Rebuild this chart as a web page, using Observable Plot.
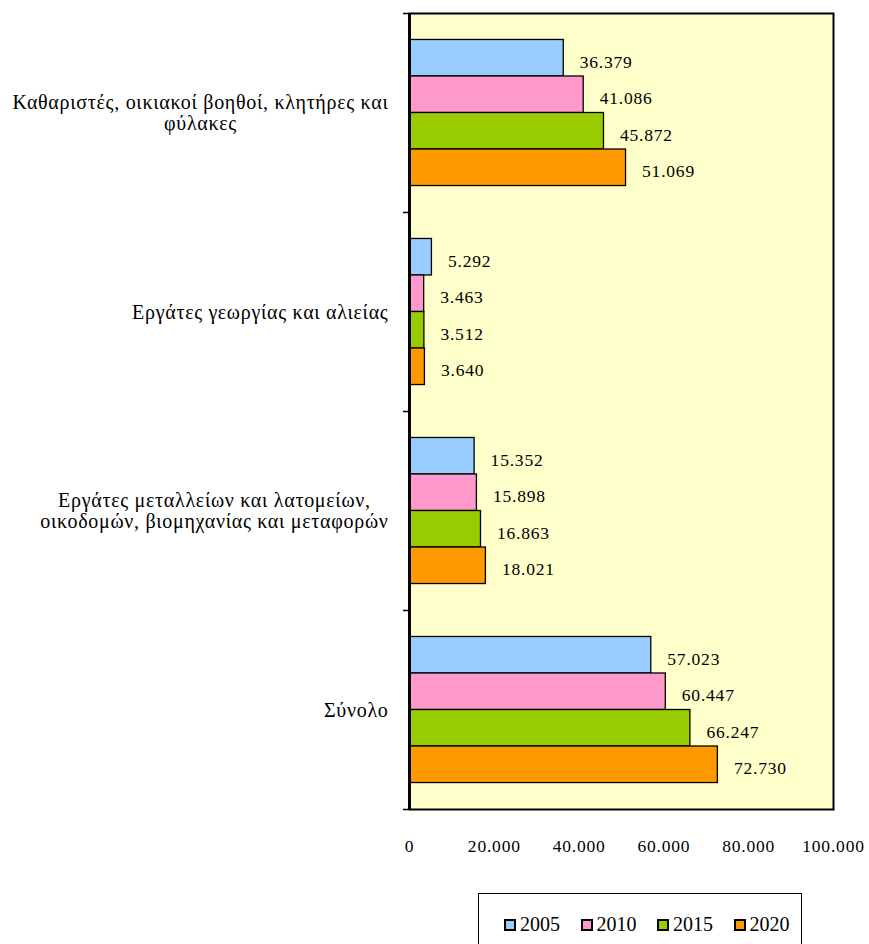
<!DOCTYPE html>
<html>
<head>
<meta charset="utf-8">
<script src="https://cdn.jsdelivr.net/npm/d3@7"></script>
<script src="https://cdn.jsdelivr.net/npm/@observablehq/plot@0.6"></script>
<style>
  body { margin: 0; background: #fff; font-family: 'Liberation Serif', 'Times New Roman', serif; }
  #wrap { position: relative; width: 869px; height: 944px; overflow: hidden; }
  #legend { position: absolute; left: 478px; top: 893px; width: 324px; height: 70px; box-sizing: border-box;
            border: 1.5px solid #000; background: #fff; font-family: 'Liberation Serif', 'Times New Roman', serif; }
  #legend .items { position: absolute; left: 25px; top: 19px; display: flex; }
  #legend .item { display: flex; align-items: center; width: 76.5px; font-size: 20px; color: #000; }
  #legend .sw { width: 8px; height: 8px; border: 2px solid #000; margin-right: 4px; }
  svg text { font-family: 'Liberation Serif', 'Times New Roman', serif !important; }
</style>
</head>
<body>
<div id="wrap">
  <div id="chart"></div>
  <div id="legend"><div class="items"></div></div>
</div>
<script>
// ---- data ----
const categories = [
  "Καθαριστές, οικιακοί βοηθοί, κλητήρες και\nφύλακες",
  "Εργάτες γεωργίας και αλιείας",
  "Εργάτες μεταλλείων και λατομείων,\nοικοδομών, βιομηχανίας και μεταφορών",
  "Σύνολο"
];
const years = ["2005", "2010", "2015", "2020"];
const values2005 = [36379, 5292, 15352, 57023];
const values2010 = [41086, 3463, 15898, 60447];
const values2015 = [45872, 3512, 16863, 66247];
const values2020 = [51069, 3640, 18021, 72730];
const yearColors = ["#99CCFF", "#FF99CC", "#99CC00", "#FF9900"];
const xTicks = [0, 20000, 40000, 60000, 80000, 100000];

// ---- layout of grouped bars (dodge within each category band) ----
const groupPad = 0.133;
const barBand = (1 - 2 * groupPad) / years.length;
const series = [values2005, values2010, values2015, values2020];
const rows = [];
categories.forEach((c, ci) => {
  years.forEach((yr, yi) => {
    const y1 = ci + groupPad + yi * barBand;
    rows.push({category: c, year: yr, value: series[yi][ci], y1, y2: y1 + barBand, ym: y1 + barBand / 2});
  });
});
const fmt = d => d3.format(",")(d).replace(/,/g, ".");
const serif = "'Liberation Serif', 'Times New Roman', serif";

const plot = Plot.plot({
  width: 869,
  height: 875,
  marginTop: 13,
  marginBottom: 66,
  marginLeft: 409,
  marginRight: 36,
  style: {fontFamily: serif, fontSize: "17.5px", color: "#000", background: "#fff"},
  x: {domain: [0, 100000]},
  y: {domain: [0, categories.length], reverse: true},
  color: {domain: years, range: yearColors},
  marks: [
    Plot.frame({fill: "#FFFFCC"}),
    Plot.rect(rows, {x1: 0, x2: "value", y1: "y1", y2: "y2", fill: "year", stroke: "#000", strokeWidth: 1.3}),
    Plot.text(rows, {x: "value", y: "ym", text: d => fmt(d.value), textAnchor: "start", dx: 16, dy: 4, fontSize: 17.5, fontFamily: serif, fill: "#000"}),
    Plot.frame({stroke: "#000", strokeWidth: 2}),
    Plot.ruleX([0], {stroke: "#000", strokeWidth: 3}),
    Plot.axisY(d3.range(categories.length + 1), {tickSize: 6, tickFormat: () => "", stroke: "#000", strokeWidth: 1.5, label: null}),
    Plot.axisY(categories.map((c, i) => i + 0.5), {tickSize: 0, tickPadding: 21, tickFormat: v => categories[v - 0.5], fontSize: 20, fontFamily: serif, lineHeight: 1.05, label: null}),
    Plot.axisX(xTicks, {tickSize: 0, tickPadding: 30, tickFormat: fmt, fontSize: 17.5, fontFamily: serif, label: null})
  ]
});
document.getElementById("chart").appendChild(plot);

// letter spacing similar to the reference rendering
plot.querySelectorAll('g[aria-label="y-axis tick label"]').forEach(g => g.style.letterSpacing = "0.7px");
plot.querySelectorAll('g[aria-label="text"], g[aria-label="x-axis tick label"]').forEach(g => g.style.letterSpacing = "0.8px");

// center the lines of multi-line category labels within their right-aligned block
plot.querySelectorAll("text").forEach(t => {
  t.style.fontFamily = serif;
  const spans = t.querySelectorAll("tspan");
  if (spans.length > 1) {
    let maxW = 0;
    spans.forEach(s => { maxW = Math.max(maxW, s.getComputedTextLength()); });
    t.setAttribute("text-anchor", "middle");
    spans.forEach(s => s.setAttribute("x", -maxW / 2));
  }
});

// legend
const items = d3.select("#legend .items");
years.forEach((yr, i) => {
  const it = items.append("div").attr("class", "item");
  it.append("div").attr("class", "sw").style("background", yearColors[i]);
  it.append("span").text(yr);
});
</script>
</body>
</html>
